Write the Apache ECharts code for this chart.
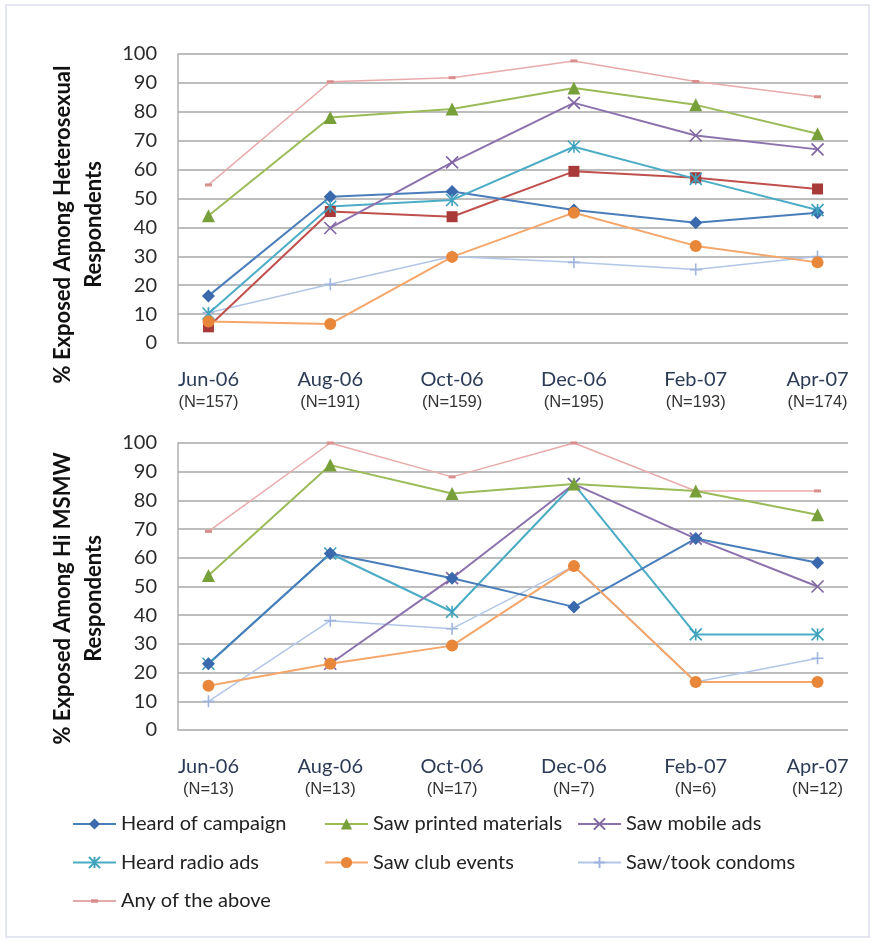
<!DOCTYPE html>
<html>
<head>
<meta charset="utf-8">
<script src="https://cdn.jsdelivr.net/npm/echarts@6/dist/echarts.min.js"></script>
<style>
  html, body { margin: 0; padding: 0; background: #fff; }
  #chart { width: 875px; height: 942px; }
</style>
</head>
<body>
<div id="chart"></div>
<script>
// categories
const months = ['Jun-06', 'Aug-06', 'Oct-06', 'Dec-06', 'Feb-07', 'Apr-07'];
const hetN = [157, 191, 159, 195, 193, 174];
const msmwN = [13, 13, 17, 7, 6, 12];
const yTicks = [0, 10, 20, 30, 40, 50, 60, 70, 80, 90, 100];

// heterosexual respondents (top)
const hetHeard = [16.3, 50.6, 52.4, 46, 41.6, 45.1];
const hetPrinted = [44, 78, 81, 88.2, 82.4, 72.4];
const hetMobile = [null, 39.8, 62.5, 83.1, 71.8, 67];
const hetRadio = [10.2, 47.2, 49.5, 67.9, 56.8, 46];
const hetClub = [7.4, 6.6, 29.8, 45.1, 33.6, 27.9];
const hetCondoms = [10.5, 20.3, 29.9, 27.9, 25.4, 29.9];
const hetAny = [54.7, 90.4, 91.8, 97.6, 90.5, 85.2];
const hetOther = [5.6, 45.5, 43.7, 59.4, 57.2, 53.3];

// Hi MSMW respondents (bottom)
const msmwHeard = [23.1, 61.5, 52.9, 42.9, 66.7, 58.3];
const msmwPrinted = [53.8, 92.3, 82.4, 85.7, 83.3, 75];
const msmwMobile = [null, 23.1, 52.9, 85.7, 66.7, 50];
const msmwRadio = [23.1, 61.5, 41.2, 85.7, 33.3, 33.3];
const msmwClub = [15.4, 23.1, 29.4, 57.1, 16.7, 16.7];
const msmwCondoms = [10, 38.1, 35.3, 57.1, 16.7, 25];
const msmwAny = [69.2, 100, 88.2, 100, 83.3, 83.3];
const msmwOther = [null, null, null, 57.1, 16.7, null];

const FONT = 'Lato, "Open Sans", sans-serif';

const myChart = echarts.init(document.getElementById('chart'));

const styles = {
    'Heard of campaign': { line: '#4a7ebb', mark: '#3a69ad', symbol: 'diamond', size: 13, width: 2 },
    'Saw printed materials': { line: '#9bbb59', mark: '#77a03a', symbol: 'triangle', size: 13, width: 2 },
    'Saw mobile ads': { line: '#8c72ad', mark: '#8064a2', symbol: 'path://M0,0L10,10M10,0L0,10', size: 12, width: 2, stroke: true },
    'Heard radio ads': { line: '#4bacc6', mark: '#3ea2bd', symbol: 'path://M0,0L10,10M10,0L0,10M5,0L5,10', size: 12, width: 2, stroke: true },
    'Saw club events': { line: '#f5a66a', mark: '#e8863a', symbol: 'circle', size: 12, width: 2 },
    'Saw/took condoms': { line: '#b3c6e8', mark: '#9fb5de', symbol: 'path://M0,5L10,5M5,0L5,10', size: 12, width: 1.5, stroke: true },
    'Any of the above': { line: '#e8aaaa', mark: '#d98e8e', symbol: 'rect', size: [7, 3], width: 1.5 },
    'other': { line: '#c0504d', mark: '#a83a3a', symbol: 'rect', size: 11, width: 2 },
    'otherGray': { line: '#a6a6a6', mark: '#a6a6a6', symbol: 'none', size: 0, width: 1.5 }
};

function makeSeries(name, styleKey, values, gridIdx) {
    const s = styles[styleKey];
    return {
        name: name,
        type: 'line',
        xAxisIndex: gridIdx,
        yAxisIndex: gridIdx,
        data: values.map((v, i) => [i, v]),
        symbol: s.symbol,
        symbolSize: s.size,
        showSymbol: s.symbol !== 'none',
        connectNulls: false,
        lineStyle: { color: s.line, width: s.width },
        itemStyle: s.stroke
            ? { color: s.mark, borderColor: s.mark, borderWidth: 1.6 }
            : { color: s.mark, borderWidth: 0 },
        emphasis: { disabled: true },
        animation: false
    };
}

function xAxisFor(gridIdx, nList) {
    return {
        type: 'value',
        gridIndex: gridIdx,
        min: -0.25,
        max: 5.25,
        axisLine: { show: false },
        axisTick: { show: false },
        splitLine: { show: false },
        axisLabel: {
            customValues: [0, 1, 2, 3, 4, 5],
            margin: 26,
            formatter: function (v) {
                return '{m|' + months[v] + '}\n{n|(N=' + nList[v] + ')}';
            },
            rich: {
                m: { fontFamily: FONT, fontSize: 20, color: '#2b3a55', lineHeight: 22 },
                n: { fontFamily: '"Liberation Sans", Arial, sans-serif', fontSize: 16.5, color: '#333', lineHeight: 22 }
            }
        }
    };
}

function yAxisFor(gridIdx, title, shift) {
    return {
        type: 'value',
        gridIndex: gridIdx,
        min: yTicks[0],
        max: yTicks[yTicks.length - 1],
        interval: 10,
        name: title,
        nameLocation: 'middle',
        nameGap: 69,
        nameTextStyle: {
            fontFamily: FONT, fontSize: 22, fontWeight: 'bold', color: '#111', lineHeight: 31,
            padding: [0, shift * 2, 0, 0]
        },
        axisLine: { show: true, onZero: false, lineStyle: { color: '#b0b0b0', width: 1.5 } },
        axisTick: { show: false },
        axisLabel: { fontFamily: FONT, fontSize: 20, color: '#2b2b2b', margin: 21 },
        splitLine: { show: true, lineStyle: { color: '#bdbdbd', width: 2 } }
    };
}

// legend icon for the pink series: thin line with a small dash marker
const anyIcon = 'path://M0,0L0.01,0M43,14L42.99,14M0,6.3L43,6.3L43,7.7L0,7.7ZM18,5.3L25,5.3L25,8.7L18,8.7Z';

const legendText = { fontFamily: FONT, fontSize: 20, color: '#222', lineHeight: 20 };
function legendCol(left, names) {
    return {
        orient: 'vertical',
        left: left,
        top: 814,
        padding: 0,
        itemWidth: 43,
        itemHeight: 14,
        itemGap: 18.5,
        textStyle: legendText,
        data: names.map(n => n === 'Any of the above' ? { name: n, icon: anyIcon } : n),
        selectedMode: false
    };
}

const option = {
    backgroundColor: '#fff',
    animation: false,
    graphic: [{
        type: 'rect',
        shape: { x: 6, y: 5, width: 863, height: 932 },
        style: { fill: 'none', stroke: '#dce0ea', lineWidth: 1.5 },
        silent: true
    }],
    grid: [
        { left: 178, right: 27, top: 54, height: 289, outerBoundsMode: 'none' },
        { left: 178, right: 27, top: 443, height: 287, outerBoundsMode: 'none' }
    ],
    xAxis: [xAxisFor(0, hetN), xAxisFor(1, msmwN)],
    yAxis: [
        yAxisFor(0, '% Exposed Among Heterosexual\nRespondents', 26),
        yAxisFor(1, '% Exposed Among Hi MSMW\nRespondents', 12)
    ],
    legend: [
        legendCol(72, ['Heard of campaign', 'Heard radio ads', 'Any of the above']),
        legendCol(324, ['Saw printed materials', 'Saw club events']),
        legendCol(577, ['Saw mobile ads', 'Saw/took condoms'])
    ],
    series: [
        makeSeries('Any of the above', 'Any of the above', hetAny, 0),
        makeSeries('Saw/took condoms', 'Saw/took condoms', hetCondoms, 0),
        makeSeries('Other', 'other', hetOther, 0),
        makeSeries('Heard of campaign', 'Heard of campaign', hetHeard, 0),
        makeSeries('Heard radio ads', 'Heard radio ads', hetRadio, 0),
        makeSeries('Saw mobile ads', 'Saw mobile ads', hetMobile, 0),
        makeSeries('Saw club events', 'Saw club events', hetClub, 0),
        makeSeries('Saw printed materials', 'Saw printed materials', hetPrinted, 0),

        makeSeries('Any of the above', 'Any of the above', msmwAny, 1),
        makeSeries('Saw/took condoms', 'Saw/took condoms', msmwCondoms, 1),
        makeSeries('Other gray', 'otherGray', msmwOther, 1),
        makeSeries('Heard radio ads', 'Heard radio ads', msmwRadio, 1),
        makeSeries('Saw mobile ads', 'Saw mobile ads', msmwMobile, 1),
        makeSeries('Heard of campaign', 'Heard of campaign', msmwHeard, 1),
        makeSeries('Saw club events', 'Saw club events', msmwClub, 1),
        makeSeries('Saw printed materials', 'Saw printed materials', msmwPrinted, 1)
    ]
};

myChart.setOption(option);
</script>
</body>
</html>
